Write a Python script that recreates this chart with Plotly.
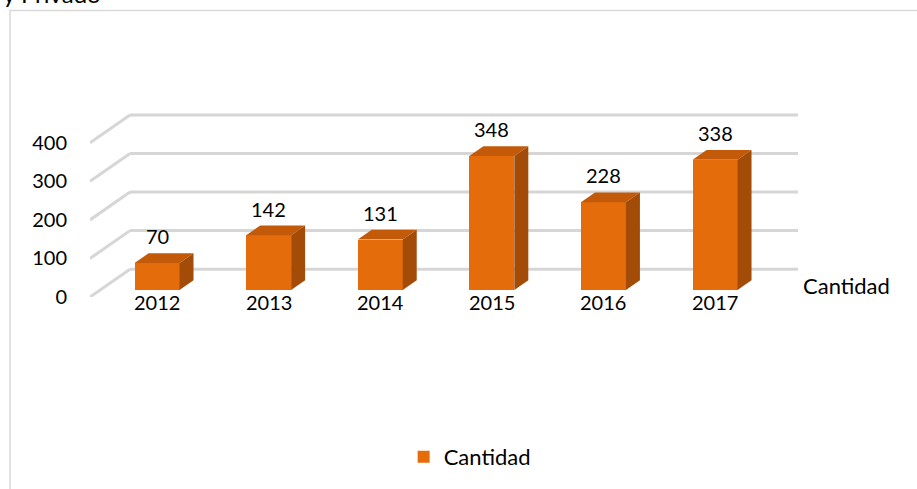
import plotly.graph_objects as go

# ---- data ----
years = ["2012", "2013", "2014", "2015", "2016", "2017"]
cantidad = [70, 142, 131, 348, 228, 338]
y_ticks = [0, 100, 200, 300, 400]
series_name = "Cantidad"
title_text = "y Privado"

# ---- pseudo-3D geometry (style constants) ----
DX = 0.3584      # depth offset in category units
DY = 72.26       # depth offset in value units
D_FRONT = 0.25
D_BACK = 0.60
W = 0.403
X_MIN, X_MAX = -0.511, 5.833
Y_MAX = 480

C_FRONT = "#E46C0A"
C_TOP = "#C25A0A"
C_SIDE = "#A24C08"
GRID = "#d6d6d6"
FONT = "Lato"
FS = 20

fig = go.Figure()

idx = list(range(len(years)))
cx = [i + D_FRONT * DX for i in idx]

# front faces
fig.add_trace(go.Bar(
    x=cx, y=cantidad, base=[D_FRONT * DY] * len(cantidad), width=W,
    marker=dict(color=C_FRONT, line=dict(width=0)),
    name=series_name, showlegend=True, hoverinfo="skip",
))

ddx = (D_BACK - D_FRONT) * DX
ddy = (D_BACK - D_FRONT) * DY
for c, v in zip(cx, cantidad):
    yb = D_FRONT * DY
    # top face
    fig.add_trace(go.Scatter(
        x=[c - W / 2, c + W / 2, c + W / 2 + ddx, c - W / 2 + ddx, c - W / 2],
        y=[v + yb, v + yb, v + yb + ddy, v + yb + ddy, v + yb],
        fill="toself", fillcolor=C_TOP, mode="lines", line=dict(width=0, color=C_TOP),
        showlegend=False, hoverinfo="skip",
    ))
    # side face
    fig.add_trace(go.Scatter(
        x=[c + W / 2, c + W / 2, c + W / 2 + ddx, c + W / 2 + ddx, c + W / 2],
        y=[yb, v + yb, v + yb + ddy, yb + ddy, yb],
        fill="toself", fillcolor=C_SIDE, mode="lines", line=dict(width=0, color=C_SIDE),
        showlegend=False, hoverinfo="skip",
    ))

shapes = []
# back wall gridlines + left diagonals, computed from ticks
for t in y_ticks:
    shapes.append(dict(type="line", xref="x", yref="y", layer="below",
                       x0=X_MIN + DX, x1=X_MAX, y0=t + DY, y1=t + DY,
                       line=dict(color=GRID, width=3)))
    shapes.append(dict(type="line", xref="x", yref="y", layer="below",
                       x0=X_MIN, x1=X_MIN + DX, y0=t, y1=t + DY,
                       line=dict(color=GRID, width=3)))

# chart border
shapes.append(dict(type="rect", xref="paper", yref="paper",
                   x0=-0.113, x1=1.2, y0=-1.3, y1=1.548,
                   line=dict(color="#d9d9d9", width=1.5), fillcolor="rgba(0,0,0,0)",
                   layer="below"))

annotations = []
for c, v in zip(cx, cantidad):
    annotations.append(dict(x=c, y=v + D_BACK * DY, xref="x", yref="y",
                            text=str(v), showarrow=False, yanchor="bottom", yshift=3,
                            font=dict(size=FS, color="#000000", family=FONT)))
for c, yr in zip(cx, years):
    annotations.append(dict(x=c, y=0, xref="x", yref="y", text=yr, showarrow=False,
                            yanchor="middle", yshift=-5,
                            font=dict(size=FS, color="#000000", family=FONT)))
annotations.append(dict(x=X_MAX, y=0.4 * DY, xref="x", yref="y", text=series_name,
                        showarrow=False, xanchor="left", yanchor="middle", xshift=3,
                        font=dict(size=22, color="#000000", family=FONT)))
annotations.append(dict(x=0.0, y=1.5376, xref="paper", yref="paper",
                        text=title_text, showarrow=False, xanchor="right", yanchor="bottom",
                        xshift=13, yshift=3,
                        font=dict(size=24, color="#000000", family=FONT)))

fig.update_layout(
    width=917, height=489,
    margin=dict(l=90, r=119, t=112, b=191),
    paper_bgcolor="white", plot_bgcolor="rgba(0,0,0,0)",
    font=dict(family=FONT, size=FS, color="#000000"),
    xaxis=dict(range=[X_MIN, X_MAX], showgrid=False, zeroline=False,
               showticklabels=False, showline=False, fixedrange=True),
    yaxis=dict(range=[0, Y_MAX], tickvals=y_ticks, showgrid=False, zeroline=False,
               showline=False, ticks="", ticklabelstandoff=22, fixedrange=True),
    showlegend=True,
    legend=dict(orientation="h", x=0.443, y=-0.855, xanchor="left", yanchor="middle",
                font=dict(size=22, family=FONT), bgcolor="rgba(0,0,0,0)"),
    shapes=shapes, annotations=annotations,
    bargap=0,
)

fig.write_html("out.html", config={"displayModeBar": False},
               post_script="document.body.style.margin='0px';document.body.style.overflow='hidden';")
